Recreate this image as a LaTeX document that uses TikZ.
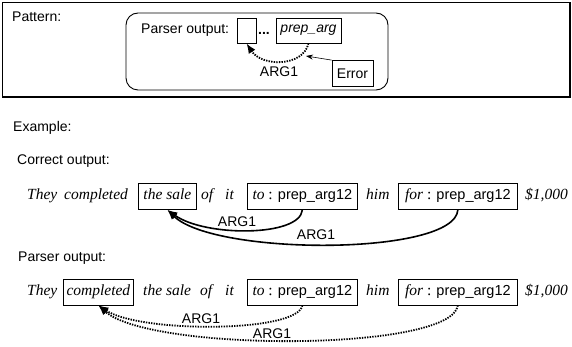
\documentclass[tikz,border=0pt]{standalone}
\usepackage{fontspec}
\setmainfont{Liberation Serif}
\setsansfont{Liberation Sans}
\usetikzlibrary{arrows.meta}
\newcommand\pafont{\sffamily\upshape\fontsize{14.5}{16}\selectfont}
\begin{document}
\begin{tikzpicture}[x=1pt,y=-1pt,
  lab/.style={font=\sffamily\fontsize{14}{16}\selectfont, inner sep=0pt, anchor=west},
  clab/.style={lab, anchor=center},
  wd/.style={font=\fontsize{15.5}{18}\selectfont\itshape, inner sep=0pt, text height=11pt, text depth=4pt, anchor=west},
  wbox/.style={wd, draw, line width=0.7pt, inner xsep=0pt, inner ysep=5.5pt, minimum height=26pt},
  pbox/.style={draw, line width=0.8pt, inner sep=0pt, minimum height=25pt, font=\sffamily\fontsize{14}{16}\selectfont},
  solidarc/.style={line width=1.6pt, -{Latex[length=10pt,width=8pt]}},
  dotarc/.style={line width=1.8pt, dash pattern=on 1.4pt off 1.2pt, -{Latex[length=10pt,width=8pt]}},
]
\useasboundingbox (0,0) rectangle (572,347);
% pattern panel
\draw[line width=1.2pt] (2.5,2.5) rectangle (570,97);
\node[lab] (pattern) at (12,17) {Pattern:};
\node[draw, rounded corners=12pt, line width=0.9pt, minimum width=262pt, minimum height=77pt, inner sep=0pt] (patbox) at (257,51.5) {};
\node[lab] (pout) at (141,30) {Parser output:};
\node[pbox, minimum width=19pt] (empty) at (246.5,30.5) {};
\node[lab] (dots) at (258,33) {\textbf{...}};
\node[pbox, minimum width=65pt, font=\sffamily\itshape\fontsize{14}{16}\selectfont] (parg) at (308.5,30.5) {prep\_arg};
\node[pbox, minimum width=41pt, minimum height=26pt] (err) at (352.5,73.5) {Error};
\node[clab] (parg1) at (279,72) {ARG1};
\draw[dotarc] (parg.south) .. controls (303,67) and (262,67) .. (empty.south);
\coordinate (hit) at (306,56);
\draw[line width=0.6pt, -{Stealth[length=7pt,width=5pt]}] (err.north west) -- (hit);
% example
\node[lab] (ex) at (13,128) {Example:};
\node[lab] (cor) at (17,161) {Correct output:};
\node[wd] (a1) at (27,196.5) {They};
\node[wd] (a2) at (64,196.5) {completed};
\node[wbox, minimum width=58pt] (a3) at (138,196.5) {the sale};
\node[wd] (a4) at (201,196.5) {of};
\node[wd] (a5) at (225,196.5) {it};
\node[wbox, minimum width=110pt] (a6) at (247,196.5) {to {\upshape:} {\pafont prep\_arg12}};
\node[wd] (a7) at (366,196.5) {him};
\node[wbox, minimum width=119pt] (a8) at (398,196.5) {for {\upshape:} {\pafont prep\_arg12}};
\node[wd] (a9) at (525,196.5) {\$1,000};
\draw[solidarc] (a6.south) .. controls (300,237) and (205,237) .. (a3.south);
\draw[solidarc] (a8.south) .. controls (455,256) and (215,256) .. (a3.south);
\node[clab] (l1) at (237,222) {ARG1};
\node[clab] (l2) at (316,235) {ARG1};
% parser output
\node[lab] (par) at (18,258) {Parser output:};
\node[wd] (b1) at (27,292) {They};
\node[wbox, minimum width=70pt] (b2) at (63,292) {completed};
\node[wd] (b3) at (143,292) {the sale};
\node[wd] (b4) at (200,292) {of};
\node[wd] (b5) at (225,292) {it};
\node[wbox, minimum width=110pt] (b6) at (247,292) {to {\upshape:} {\pafont prep\_arg12}};
\node[wd] (b7) at (366,292) {him};
\node[wbox, minimum width=119pt] (b8) at (398,292) {for {\upshape:} {\pafont prep\_arg12}};
\node[wd] (b9) at (525,292) {\$1,000};
\draw[dotarc] (b6.south) .. controls (298,333) and (140,333) .. (b2.south);
\draw[dotarc] (b8.south) .. controls (452,352) and (150,352) .. (b2.south);
\node[clab] (l3) at (201,319) {ARG1};
\node[clab] (l4) at (272,334) {ARG1};
\end{tikzpicture}
\end{document}
